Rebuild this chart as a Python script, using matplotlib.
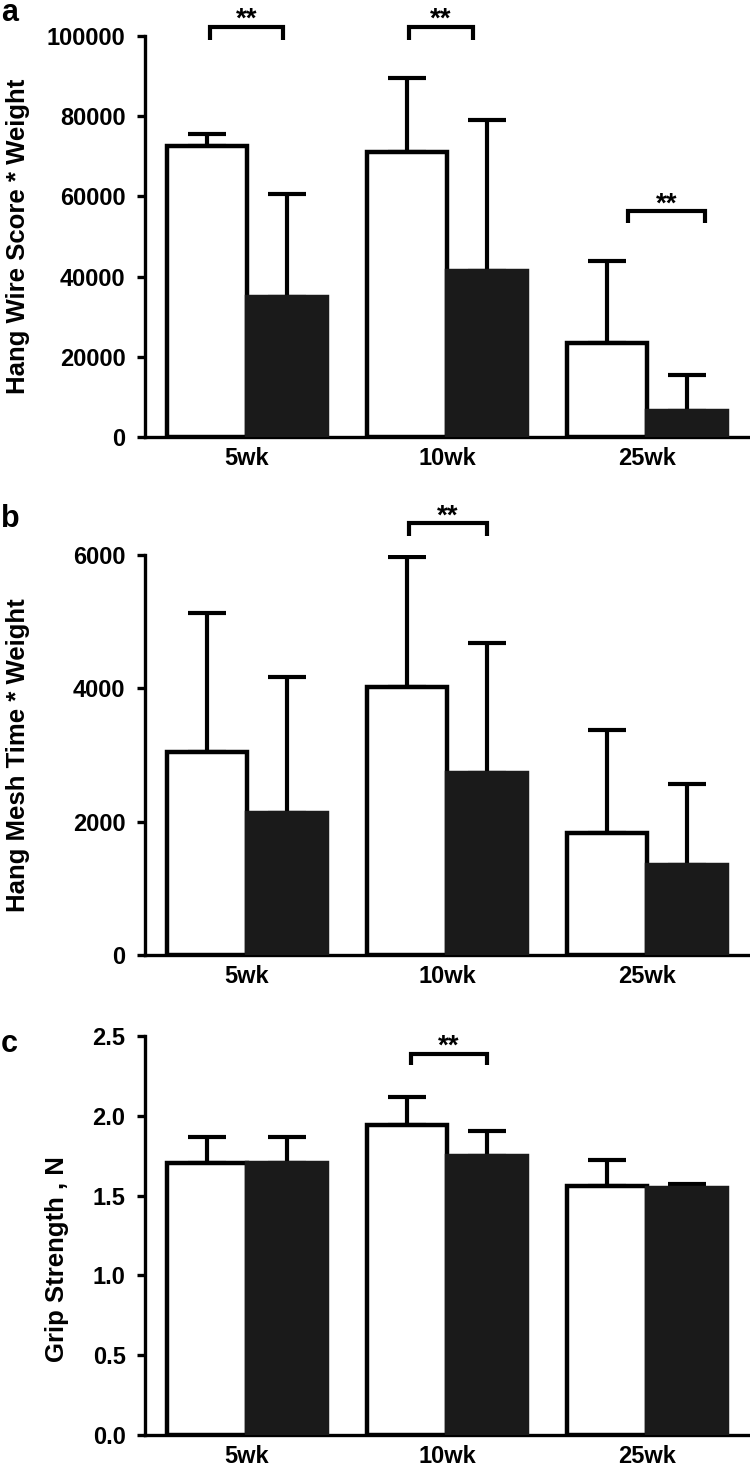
import matplotlib
matplotlib.use("Agg")
import matplotlib.pyplot as plt
import numpy as np

plt.rcParams['font.family'] = ['Liberation Sans', 'DejaVu Sans']
plt.rcParams['font.weight'] = 'bold'

groups = ["5wk", "10wk", "25wk"]

# Panel a: Hang Wire Score * Weight
a_white = [72500, 71000, 23500]
a_white_err = [3000, 18500, 20500]
a_black = [35000, 41500, 6500]
a_black_err = [25500, 37500, 9000]

# Panel b: Hang Mesh Time * Weight
b_white = [3045, 4020, 1830]
b_white_err = [2085, 1950, 1550]
b_black = [2130, 2730, 1350]
b_black_err = [2040, 1950, 1215]

# Panel c: Grip Strength, N
c_white = [1.705, 1.945, 1.56]
c_white_err = [0.165, 0.175, 0.16]
c_black = [1.705, 1.75, 1.55]
c_black_err = [0.165, 0.155, 0.025]

W, H = 750, 1473
fig = plt.figure(figsize=(W / 100, H / 100), dpi=100)

def frac_axes(left_px, top_px, bottom_px, right_px=750):
    return fig.add_axes([left_px / W, 1 - bottom_px / H,
                         (right_px - left_px) / W, (bottom_px - top_px) / H])

LW = 3.2
x = np.arange(len(groups))
bw = 0.4
black = '#1a1a1a'

def panel(ax, white, werr, blk, berr, ylim, yticks, yticklabels, ylabel):
    ax.bar(x - bw / 2, white, width=bw, color='white', edgecolor='black',
           linewidth=LW, zorder=3)
    ax.bar(x + bw / 2, blk, width=bw, color=black, edgecolor=black,
           linewidth=LW, zorder=3)
    ax.errorbar(x - bw / 2, white, yerr=[np.zeros(3), werr], fmt='none',
                ecolor='black', elinewidth=3, capsize=14, capthick=3, zorder=2)
    ax.errorbar(x + bw / 2, blk, yerr=[np.zeros(3), berr], fmt='none',
                ecolor='black', elinewidth=3, capsize=14, capthick=3, zorder=2)
    ax.set_xlim(-0.51, 2.515)
    ax.set_ylim(*ylim)
    ax.set_yticks(yticks)
    ax.set_yticklabels(yticklabels)
    ax.set_xticks(x)
    ax.set_xticklabels(groups)
    for s in ['top', 'right']:
        ax.spines[s].set_visible(False)
    for s in ['left', 'bottom']:
        ax.spines[s].set_linewidth(2.4)
    ax.tick_params(axis='y', length=6, width=2.4, labelsize=17, pad=8)
    ax.tick_params(axis='x', length=0, labelsize=17, pad=7)
    ax.set_ylabel(ylabel, fontsize=18.5, fontweight='bold')

def bracket(ax, x0, x1, y, ydrop, text_gap):
    ax.plot([x0, x0, x1, x1], [y - ydrop, y, y, y - ydrop], color='black',
            lw=3, clip_on=False, solid_capstyle='butt', solid_joinstyle='miter')
    ax.text((x0 + x1) / 2, y + text_gap, '**', ha='center', va='bottom',
            fontsize=20, fontweight='bold', clip_on=False)

ax_a = frac_axes(145, 36, 437)
panel(ax_a, a_white, a_white_err, a_black, a_black_err, (0, 100000),
      [0, 20000, 40000, 60000, 80000, 100000],
      ['0', '20000', '40000', '60000', '80000', '100000'],
      'Hang Wire Score * Weight')
ax_a.yaxis.set_label_coords(-0.19, 0.5)
bracket(ax_a, -0.185, 0.18, 102250, 3250, -1500)
bracket(ax_a, 0.81, 1.13, 102250, 3250, -1500)
bracket(ax_a, 1.905, 2.29, 56250, 3000, -1500)

ax_b = frac_axes(145, 555, 955)
panel(ax_b, b_white, b_white_err, b_black, b_black_err, (0, 6000),
      [0, 2000, 4000, 6000], ['0', '2000', '4000', '6000'],
      'Hang Mesh Time * Weight')
ax_b.yaxis.set_label_coords(-0.19, 0.5)
bracket(ax_b, 0.81, 1.2, 6480, 200, -100)

ax_c = frac_axes(145, 1036, 1435)
panel(ax_c, c_white, c_white_err, c_black, c_black_err, (0, 2.5),
      [0, 0.5, 1.0, 1.5, 2.0, 2.5], ['0.0', '0.5', '1.0', '1.5', '2.0', '2.5'],
      'Grip Strength , N')
ax_c.yaxis.set_label_coords(-0.125, 0.44)
bracket(ax_c, 0.82, 1.2, 2.389, 0.07, -0.04)

for letter, ypx in [('a', 21), ('b', 527), ('c', 1052)]:
    fig.text(1 / W, 1 - ypx / H, letter, fontsize=22, fontweight='bold',
             ha='left', va='baseline')

fig.savefig('out.png', dpi=100)
